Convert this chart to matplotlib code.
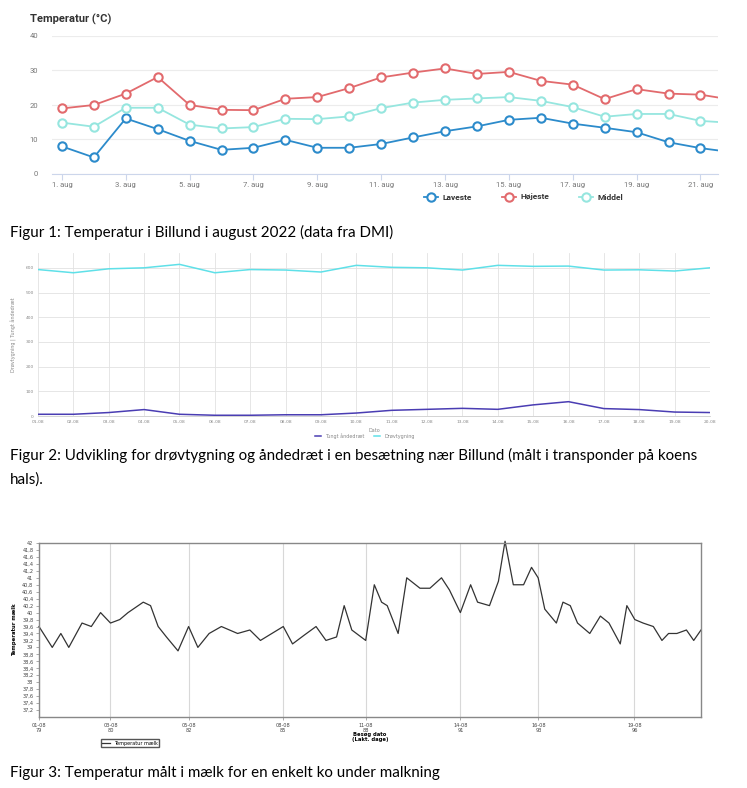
import matplotlib
matplotlib.use("Agg")
import matplotlib.pyplot as plt
from matplotlib.ticker import FixedLocator, FuncFormatter

# ---- Figur 1: temperatur i Billund (DMI) ----
dage = list(range(1, 23))
laveste = [8.0, 4.8, 16.1, 13.0, 9.6, 7.0, 7.6, 9.9, 7.6, 7.6, 8.7,
           10.6, 12.4, 13.8, 15.7, 16.3, 14.6, 13.4, 12.1, 9.2, 7.5, 6.3]
hojeste = [19.0, 20.0, 23.3, 28.1, 20.0, 18.6, 18.5, 21.8, 22.3, 24.9, 28.0,
           29.4, 30.6, 29.0, 29.6, 27.0, 25.9, 21.7, 24.6, 23.3, 23.0, 21.5]
middel = [14.9, 13.7, 19.2, 19.2, 14.3, 13.2, 13.6, 16.0, 15.9, 16.7, 19.1,
          20.7, 21.5, 21.9, 22.3, 21.2, 19.4, 16.6, 17.4, 17.4, 15.4, 14.8]

# ---- Figur 2: drøvtygning og åndedræt ----
datoer2 = ["01-08", "02-08", "03-08", "04-08", "05-08", "06-08", "07-08",
           "08-08", "09-08", "10-08", "11-08", "12-08", "13-08", "14-08",
           "15-08", "16-08", "17-08", "18-08", "19-08", "20-08"]
drovtygning = [593, 580, 596, 600, 614, 580, 593, 591, 583, 610,
               602, 600, 591, 610, 606, 607, 591, 592, 587, 600]
andedraet = [7, 7, 14, 26, 7, 3, 3, 5, 5, 12,
             23, 27, 31, 27, 45, 58, 30, 26, 16, 14]

# ---- Figur 3: temperatur i mælk ----
besog = [0, 4.0, 6.6, 9.0, 13.0, 15.8, 18.6, 21.6, 24.4, 26.9,
         31.5, 33.7, 36.0, 38.5, 42.0, 45.2, 48.0, 51.4, 55.1, 60.0,
         63.7, 66.9, 73.8, 76.6, 80.1, 83.7, 86.7, 89.9, 92.2, 94.5,
         98.7, 101.3, 103.5, 105.2, 108.5, 111.1, 115.1, 118.1, 121.6, 124.0,
         127.3, 130.4, 132.5, 136.1, 138.8, 140.8, 143.3, 146.4, 148.8, 150.8,
         152.8, 156.3, 158.3, 160.5, 162.7, 166.4, 169.6, 172.2, 175.6, 177.6,
         180.0, 182.5, 185.6, 188.2, 190.2, 192.7, 195.6, 197.8, 200]
temp_maelk = [39.6, 39.0, 39.4, 39.0, 39.7, 39.6, 40.0, 39.7, 39.8, 40.0,
              40.3, 40.2, 39.6, 39.3, 38.9, 39.6, 39.0, 39.4, 39.6, 39.4,
              39.5, 39.2, 39.6, 39.1, 39.35, 39.6, 39.2, 39.3, 40.2, 39.5,
              39.2, 40.8, 40.3, 40.2, 39.4, 41.0, 40.7, 40.7, 41.0, 40.65,
              40.0, 40.8, 40.3, 40.2, 40.9, 42.05, 40.8, 40.8, 41.3, 41.0,
              40.1, 39.7, 40.3, 40.2, 39.7, 39.4, 39.9, 39.7, 39.1, 40.2,
              39.8, 39.7, 39.6, 39.2, 39.4, 39.4, 39.5, 39.2, 39.5]
tick_pos3 = [0, 21.6, 45.2, 73.8, 98.7, 127.3, 150.9, 179.9]
tick_lab3 = ["01-08\n79", "03-08\n80", "05-08\n82", "08-08\n85",
             "11-08\n88", "14-08\n91", "16-08\n93", "19-08\n96"]

fig = plt.figure(figsize=(7.47, 7.88), dpi=100)
W, H = 747, 788


def box(x0, y0, x1, y1):
    # pixel box (top-left origin) -> figure fraction
    return [x0 / W, 1 - y1 / H, (x1 - x0) / W, (y1 - y0) / H]


# ================= Figur 1 =================
ax1 = fig.add_axes(box(52, 36, 718, 174))
farver = {"Laveste": "#2c8bcb", "Højeste": "#e26a6d", "Middel": "#96e6df"}
for navn, vals in [("Laveste", laveste), ("Højeste", hojeste), ("Middel", middel)]:
    ax1.plot(dage, vals, color=farver[navn], lw=1.3, marker="o", ms=6,
             mfc="white", mec=farver[navn], mew=1.5, label=navn)
ax1.set_xlim(0.69, 21.55)
ax1.set_ylim(0, 40)
ax1.set_yticks([0, 10, 20, 30, 40])
ax1.set_xticks(range(1, 22, 2))
ax1.set_xticklabels([f"{d}. aug" for d in range(1, 22, 2)])
ax1.grid(axis="y", color="#ececec", lw=0.8)
for s in ["top", "right", "left"]:
    ax1.spines[s].set_visible(False)
ax1.spines["bottom"].set_color("#ccd6eb")
ax1.tick_params(axis="y", length=0, labelsize=5.5, labelcolor="#777777", pad=10)
ax1.tick_params(axis="x", length=4, color="#ccd6eb", labelsize=5.5,
                labelcolor="#777777", pad=2)
for t in ax1.get_xticklabels() + ax1.get_yticklabels():
    t.set_family("Roboto")
fig.text(30 / W, 1 - 19 / H, "Temperatur (°C)", fontsize=8, fontweight="bold",
         family="Roboto", color="#333333", va="center", ha="left")
leg1 = ax1.legend(loc="center", bbox_to_anchor=(524 / W, 1 - 197 / H),
                  bbox_transform=fig.transFigure, ncol=3, frameon=False,
                  prop={"family": "Roboto", "weight": "bold", "size": 6},
                  handlelength=1.6, columnspacing=3.6, handletextpad=0.6)
for t in leg1.get_texts():
    t.set_color("#333333")

# ================= Figur 2 =================
ax2 = fig.add_axes(box(38, 253, 710, 416))
x2 = range(len(datoer2))
ax2.plot(x2, andedraet, color="#4a3db3", lw=1.1, label="Tungt åndedræt")
ax2.plot(x2, drovtygning, color="#5fe0e8", lw=1.1, label="Drøvtygning")
ax2.set_xlim(0, len(datoer2) - 1)
ax2.set_ylim(0, 660)
ax2.set_yticks([0, 100, 200, 300, 400, 500, 600])
ax2.set_xticks(list(x2))
ax2.set_xticklabels(datoer2)
ax2.grid(True, color="#e2e2e2", lw=0.6)
for s in ["top", "right", "left"]:
    ax2.spines[s].set_visible(False)
ax2.spines["bottom"].set_color("#cccccc")
ax2.spines["bottom"].set_linewidth(0.6)
ax2.tick_params(length=0, labelsize=3.2, labelcolor="#888888", pad=3)
ax2.set_xlabel("Dato", fontsize=3.5, color="#888888", labelpad=3)
ax2.set_ylabel("Drøvtygning | Tungt åndedræt", fontsize=3.5, color="#888888",
               labelpad=6)
ax2.legend(loc="center", bbox_to_anchor=(365 / W, 1 - 436 / H),
           bbox_transform=fig.transFigure, ncol=2, frameon=False,
           fontsize=3.5, handlelength=1.2, labelcolor="#888888")

# ================= Figur 3 =================
ax3 = fig.add_axes(box(39, 543, 701, 717))
ax3.plot(besog, temp_maelk, color="#333333", lw=0.9, label="Temperatur mælk",
         clip_on=False)
ax3.set_xlim(0, 200)
ax3.set_ylim(37.0, 42.0)
yt3 = [round(37.2 + 0.2 * i, 1) for i in range(25)]
ax3.yaxis.set_major_locator(FixedLocator(yt3))
ax3.yaxis.set_major_formatter(FuncFormatter(
    lambda v, p: (f"{v:.0f}" if abs(v - round(v)) < 1e-6 else f"{v:.1f}").replace(".", ",")))
ax3.set_xticks(tick_pos3)
ax3.set_xticklabels(tick_lab3)
ax3.grid(axis="x", color="#d8d8d8", lw=0.8)
for s in ax3.spines.values():
    s.set_color("#888888")
    s.set_linewidth(1.0)
ax3.tick_params(length=2, width=0.5, color="#888888", labelsize=3.6,
                labelcolor="#444444", pad=2)
ax3.set_ylabel("Temperatur mælk", fontsize=3.8, fontweight="bold", labelpad=4)
fig.text(370 / W, 1 - 737 / H, "Besøg dato\n(Lakt. dage)", fontsize=3.8,
         fontweight="bold", ha="center", va="center", linespacing=1.0)
ax3.legend(loc="center", bbox_to_anchor=(130 / W, 1 - 743 / H),
           bbox_transform=fig.transFigure, frameon=True, fancybox=False,
           edgecolor="#555555", fontsize=3.5, handlelength=1.5,
           borderpad=0.3, framealpha=1)

# ================= Figurtekster =================
cap = dict(fontsize=10.9, family="Lato", color="black", ha="left", va="center")
fig.text(10 / W, 1 - 232 / H,
         "Figur 1: Temperatur i Billund i august 2022 (data fra DMI)", **cap)
fig.text(10 / W, 1 - 455 / H,
         "Figur 2: Udvikling for drøvtygning og åndedræt i en besætning nær "
         "Billund (målt i transponder på koens", **cap)
fig.text(10 / W, 1 - 480 / H, "hals).", **cap)
fig.text(10 / W, 1 - 773 / H,
         "Figur 3: Temperatur målt i mælk for en enkelt ko under malkning", **cap)

fig.savefig("out.png", dpi=100, facecolor="white")
